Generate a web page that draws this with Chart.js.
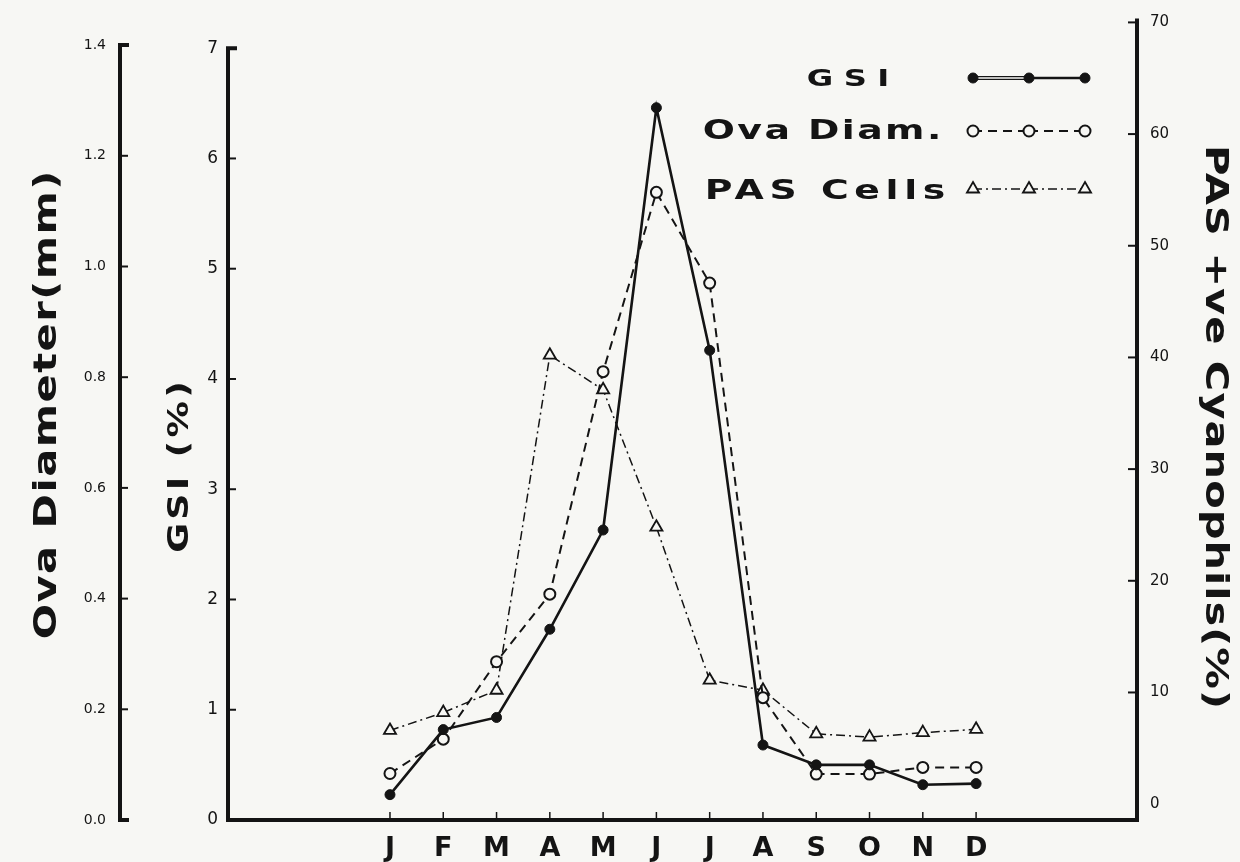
<!DOCTYPE html>
<html>
<head>
<meta charset="utf-8">
<script src="https://cdn.jsdelivr.net/npm/chart.js@4/dist/chart.umd.min.js"></script>
<style>
  html, body { margin: 0; padding: 0; background: #f7f7f4; }
  canvas { display: block; }
</style>
</head>
<body>
<canvas id="chart" width="1240" height="862"></canvas>
<script>
// months along the bottom
const months = ["J", "F", "M", "A", "M", "J", "J", "A", "S", "O", "N", "D"];
const monthPos = [1, 2, 3, 4, 5, 6, 7, 8, 9, 10, 11, 12];

// values
const gsi = [0.23, 0.82, 0.93, 1.73, 2.63, 6.46, 4.26, 0.68, 0.50, 0.50, 0.32, 0.33];
const ovaDiam = [0.084, 0.146, 0.286, 0.408, 0.81, 1.134, 0.97, 0.221, 0.083, 0.083, 0.095, 0.095];
const pasCells = [6.6, 8.2, 10.2, 40.2, 37.1, 24.8, 11.1, 10.2, 6.3, 6.0, 6.4, 6.7];

// tick labels
const ovaTicks = [0, 0.2, 0.4, 0.6, 0.8, 1.0, 1.2, 1.4];
const gsiTicks = [0, 1, 2, 3, 4, 5, 6, 7];
const pasTicks = [0, 10, 20, 30, 40, 50, 60, 70];

const INK = "#141414";
const PAPER = "#f7f7f4";
const FONT = "'DejaVu Sans', sans-serif";

function pts(ys) {
  return ys.map((y, i) => ({ x: monthPos[i], y }));
}

// the original lettering is an extended face, so widen glyphs and space them out
function spacedText(ctx, text, cx, cy, rot, size, span, stretch) {
  const k = stretch || 1.3;
  ctx.save();
  ctx.translate(cx, cy);
  ctx.rotate(rot);
  ctx.scale(k, 1);
  ctx.font = "bold " + size + "px " + FONT;
  ctx.letterSpacing = "0px";
  const w = ctx.measureText(text).width;
  const sp = Math.max(0, (span / k - w) / text.length);
  ctx.letterSpacing = sp + "px";
  ctx.textAlign = "center";
  ctx.textBaseline = "middle";
  ctx.fillStyle = INK;
  ctx.fillText(text, sp / 2, 0);
  ctx.restore();
}

// axis lines, inward ticks, titles and legend
const inkPlugin = {
  id: "ink",
  afterDraw(chart) {
    const { ctx, chartArea, scales } = chart;
    const ova = scales.yOva, g = scales.yGSI, pas = scales.yPAS, x = scales.x;
    ctx.save();
    ctx.strokeStyle = INK;
    ctx.lineCap = "butt";

    // Ova axis
    const ox = ova.right;
    const oTop = ova.getPixelForValue(1.4), oBot = ova.getPixelForValue(0);
    ctx.lineWidth = 4;
    ctx.beginPath();
    ctx.moveTo(ox + 9, oTop); ctx.lineTo(ox, oTop); ctx.lineTo(ox, oBot); ctx.lineTo(ox + 9, oBot);
    ctx.stroke();
    ctx.lineWidth = 2;
    ovaTicks.slice(1, -1).forEach(v => {
      const y = ova.getPixelForValue(v);
      ctx.beginPath(); ctx.moveTo(ox, y); ctx.lineTo(ox + 8, y); ctx.stroke();
    });

    // GSI axis
    const gx = g.right;
    const gTop = g.getPixelForValue(7);
    ctx.lineWidth = 4;
    ctx.beginPath();
    ctx.moveTo(gx + 9, gTop); ctx.lineTo(gx, gTop); ctx.lineTo(gx, chartArea.bottom + 2);
    ctx.stroke();
    ctx.lineWidth = 2;
    gsiTicks.slice(1, -1).forEach(v => {
      const y = g.getPixelForValue(v);
      ctx.beginPath(); ctx.moveTo(gx, y); ctx.lineTo(gx + 8, y); ctx.stroke();
    });

    // PAS axis
    const px = pas.left;
    ctx.lineWidth = 4;
    ctx.beginPath();
    ctx.moveTo(px, pas.getPixelForValue(70) - 4); ctx.lineTo(px, chartArea.bottom + 2);
    ctx.stroke();
    ctx.lineWidth = 2;
    pasTicks.slice(1).forEach(v => {
      const y = pas.getPixelForValue(v);
      ctx.beginPath(); ctx.moveTo(px, y); ctx.lineTo(px - 9, y); ctx.stroke();
    });

    // month ticks
    ctx.lineWidth = 1.5;
    monthPos.forEach(m => {
      const xx = x.getPixelForValue(m);
      ctx.beginPath(); ctx.moveTo(xx, chartArea.bottom); ctx.lineTo(xx, chartArea.bottom - 8); ctx.stroke();
    });

    // axis titles
    spacedText(ctx, "Ova Diameter(mm)", 48, 405, -Math.PI / 2, 32, 470, 1.3);
    spacedText(ctx, "GSI (%)", 181, 467, -Math.PI / 2, 28, 175, 1.3);
    spacedText(ctx, "PAS +ve Cyanophils(%)", 1214, 427, Math.PI / 2, 32, 565, 1.3);

    // legend
    spacedText(ctx, "GSI", 848, 80, 0, 23, 93, 1.4);
    spacedText(ctx, "Ova Diam.", 822, 132, 0, 27, 241, 1.4);
    spacedText(ctx, "PAS Cells", 825, 192, 0, 27, 246, 1.4);

    const sx = [973, 1029, 1085];
    const rows = [
      { ds: chart.data.datasets[0], y: 78, hollowFirst: true },
      { ds: chart.data.datasets[1], y: 131 },
      { ds: chart.data.datasets[2], y: 189 }
    ];
    rows.forEach(r => {
      ctx.save();
      ctx.strokeStyle = INK;
      ctx.lineWidth = r.hollowFirst ? 4 : r.ds.borderWidth;
      ctx.setLineDash(r.ds.borderDash || []);
      ctx.beginPath(); ctx.moveTo(sx[0], r.y); ctx.lineTo(sx[1], r.y); ctx.stroke();
      ctx.lineWidth = r.ds.borderWidth;
      ctx.beginPath(); ctx.moveTo(sx[1], r.y); ctx.lineTo(sx[2], r.y); ctx.stroke();
      if (r.hollowFirst) {
        // double rule between the first two dots of the GSI key
        ctx.strokeStyle = PAPER;
        ctx.lineWidth = 1.3;
        ctx.beginPath(); ctx.moveTo(sx[0], r.y); ctx.lineTo(sx[1], r.y); ctx.stroke();
      }
      ctx.setLineDash([]);
      sx.forEach(xx => {
        ctx.fillStyle = r.ds.pointBackgroundColor;
        ctx.strokeStyle = INK;
        ctx.lineWidth = r.ds.pointBorderWidth;
        Chart.helpers.drawPoint(ctx, {
          pointStyle: r.ds.pointStyle, radius: r.ds.pointRadius, borderWidth: r.ds.pointBorderWidth
        }, xx, r.y);
      });
      ctx.restore();
    });

    ctx.restore();
  }
};

const chart = new Chart(document.getElementById("chart"), {
  type: "line",
  data: {
    datasets: [
      {
        label: "GSI",
        data: pts(gsi),
        yAxisID: "yGSI",
        borderColor: INK,
        borderWidth: 2.6,
        pointStyle: "circle",
        pointRadius: 5,
        pointBorderWidth: 1,
        pointBackgroundColor: INK,
        pointBorderColor: INK,
        tension: 0
      },
      {
        label: "Ova Diam.",
        data: pts(ovaDiam),
        yAxisID: "yOva",
        borderColor: INK,
        borderWidth: 2,
        borderDash: [9, 6],
        pointStyle: "circle",
        pointRadius: 5.5,
        pointBorderWidth: 2,
        pointBackgroundColor: PAPER,
        pointBorderColor: INK,
        tension: 0
      },
      {
        label: "PAS Cells",
        data: pts(pasCells),
        yAxisID: "yPAS",
        borderColor: INK,
        borderWidth: 1.5,
        borderDash: [9, 4, 2, 4],
        pointStyle: "triangle",
        pointRadius: 7,
        pointBorderWidth: 1.8,
        pointBackgroundColor: PAPER,
        pointBorderColor: INK,
        tension: 0
      }
    ]
  },
  options: {
    responsive: false,
    animation: false,
    devicePixelRatio: 1,
    layout: { padding: { top: 18, left: 0, right: 0, bottom: 0 } },
    plugins: { legend: { display: false }, tooltip: { enabled: false } },
    scales: {
      x: {
        type: "linear",
        min: -2.04,
        max: 15.02,
        afterBuildTicks: s => { s.ticks = monthPos.map(v => ({ value: v })); },
        afterFit: s => { s.height = 42; },
        grid: { display: false, drawTicks: false },
        border: { display: true, color: INK, width: 4 },
        ticks: {
          autoSkip: false,
          maxRotation: 0,
          padding: 13,
          color: INK,
          font: { family: FONT, size: 27, weight: "bold" },
          callback: v => months[v - 1]
        }
      },
      yOva: {
        position: "left",
        weight: 1,
        min: 0,
        max: 1.441,
        afterBuildTicks: s => { s.ticks = ovaTicks.map(v => ({ value: v })); },
        afterFit: s => { s.width = 120; },
        grid: { display: false, drawTicks: false },
        border: { display: false },
        ticks: {
          padding: 14,
          color: INK,
          font: { family: FONT, size: 14 },
          callback: v => v.toFixed(1)
        }
      },
      yGSI: {
        position: "left",
        weight: 0,
        min: 0,
        max: 7.234,
        afterBuildTicks: s => { s.ticks = gsiTicks.map(v => ({ value: v })); },
        afterFit: s => { s.width = 108; },
        grid: { display: false, drawTicks: false },
        border: { display: false },
        ticks: {
          padding: 10,
          color: INK,
          font: { family: FONT, size: 17 }
        }
      },
      yPAS: {
        position: "right",
        min: -1.42,
        max: 70,
        afterBuildTicks: s => { s.ticks = pasTicks.map(v => ({ value: v })); },
        afterFit: s => { s.width = 103; },
        grid: { display: false, drawTicks: false },
        border: { display: false },
        ticks: {
          padding: 13,
          color: INK,
          font: { family: FONT, size: 15 }
        }
      }
    }
  },
  plugins: [inkPlugin]
});
</script>
</body>
</html>
